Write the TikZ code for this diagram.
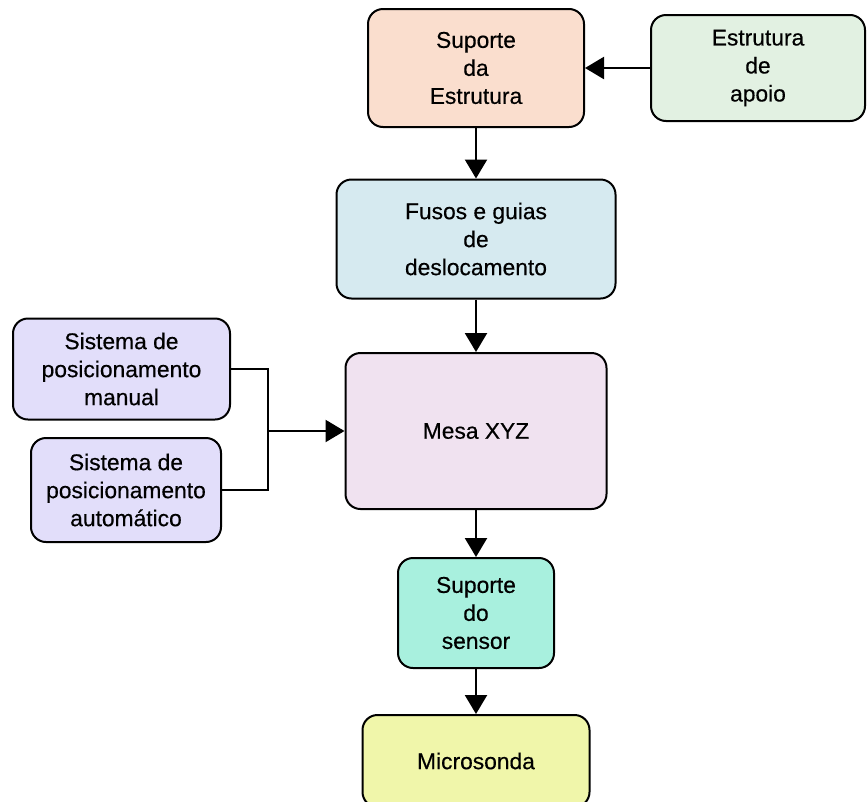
\documentclass[tikz,border=0pt]{standalone}
\usepackage{fontspec}
\setmainfont{Liberation Sans}
\newfontfamily\boxfont[FakeBold=0.4]{Liberation Sans}
\usetikzlibrary{arrows.meta}
\definecolor{cPeach}{RGB}{250,222,206}
\definecolor{cGreen}{RGB}{226,241,226}
\definecolor{cBlue}{RGB}{214,234,240}
\definecolor{cPink}{RGB}{240,226,240}
\definecolor{cLav}{RGB}{226,222,250}
\definecolor{cAqua}{RGB}{168,240,222}
\definecolor{cYellow}{RGB}{240,246,170}
\tikzset{
  blk/.style={draw=black, line width=2pt, rounded corners=15pt, align=center,
    inner sep=0pt, text=black, font=\boxfont\fontsize{22.8}{28}\selectfont},
  link/.style={line width=2.3pt, -{Triangle[length=19pt,width=22pt]}},
  wire/.style={line width=2.3pt}
}
\begin{document}
\begin{tikzpicture}[x=1pt,y=-1pt]
\useasboundingbox (0,0) rectangle (867,801);
\fill[white] (0,0) rectangle (867,801);

% main column
\node[blk, fill=cPeach, minimum width=216pt, minimum height=118pt] (sup) at (476,68) {Suporte\\da\\Estrutura};
\node[blk, fill=cBlue, minimum width=279pt, minimum height=119pt] (fus) at (476,239) {Fusos e guias\\de\\deslocamento};
\node[blk, fill=cPink, minimum width=261pt, minimum height=156pt] (mesa) at (476,431) {Mesa XYZ};
\node[blk, fill=cAqua, minimum width=156pt, minimum height=110pt] (sen) at (476,613) {Suporte\\do\\sensor};
\node[blk, fill=cYellow, minimum width=227pt, minimum height=92pt] (mic) at (476,761) {Microsonda};

% side inputs
\node[blk, fill=cGreen, minimum width=214pt, minimum height=106pt] (apo) at (758,68) {Estrutura\\de\\apoio};
\node[blk, fill=cLav, minimum width=217pt, minimum height=101pt] (man) at (121.5,369) {Sistema de\\posicionamento\\manual};
\node[blk, fill=cLav, minimum width=190pt, minimum height=104pt] (aut) at (126,490) {Sistema de\\posicionamento\\automático};

\draw[link] (apo.west) -- (sup.east);
\draw[link] (sup.south) -- (fus.north);
\draw[link] (fus.south) -- (mesa.north);
\draw[link] (mesa.south) -- (sen.north);
\draw[link] (sen.south) -- (mic.north);

\coordinate (jn) at (268,431);
\draw[wire] (man.east) -| (jn) |- (aut.east);
\draw[link] (jn) -- (jn -| mesa.west);
\end{tikzpicture}
\end{document}
